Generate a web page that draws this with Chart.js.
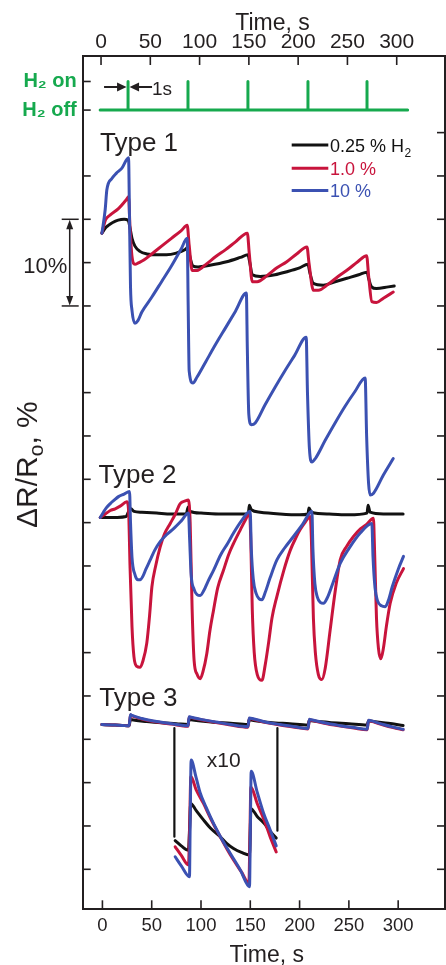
<!DOCTYPE html>
<html><head><meta charset="utf-8">
<script src="https://cdn.jsdelivr.net/npm/chart.js@4/dist/chart.umd.min.js"></script>
<style>html,body{margin:0;padding:0;background:#fff;}canvas{display:block;}</style>
</head><body>
<canvas id="c" width="446" height="965"></canvas>
<script>
// ---------- tick labels ----------
const xTickValues = [0, 50, 100, 150, 200, 250, 300];
const yLeftTickValues = [0, 5, 10, 15, 20, 25, 30, 35, 40, 45, 50, 55, 60, 65, 70, 75, 80];
const yRightTickValues = [0, 5, 10, 15, 20, 25, 30, 35, 40, 45, 50, 55, 60, 65, 70, 75, 80, 85];
const h2Labels = ['H\u2082 off', 'H\u2082 on'];
const h2Levels = [87.6, 90.9];
const seriesNames = ['0.25 % H', '1.0 %', '10 %'];
const typeNames = ['Type 1', 'Type 2', 'Type 3'];

// ---------- H2 pulses ----------
const h2PulseTimes = [26, 86.8, 147.6, 208.5, 268.4];
const h2Span = [-2.3, 309.6];

// ---------- Type 1 ----------
const type1BlackTime = [-0.5,3,6,10,16,22,26,28,30,33,38,45,55,65,75,84,86.8,88.5,92,97,109,126,140,147.6,149.5,152,160,175,187,200,208.5,210.5,214,224,236,248,260,268.4,270,273,278,290,296];
const type1BlackVal  = [73.4,74.0,74.3,74.6,74.9,75.0,74.9,74.0,72.8,71.9,71.3,71.0,70.9,70.9,71.1,71.5,71.8,70.8,69.6,69.5,69.7,70.1,70.6,70.9,70.0,68.6,68.4,68.6,68.95,69.4,69.8,68.8,67.6,67.4,67.8,68.2,68.6,68.9,68.2,67.2,67.0,67.2,67.3];
const type1RedTime = [-0.5,3,8,16,24.5,26.5,28,30,33,37,42,50,60,70,80,86,88,91,96,105,115,125,135,147,149,152,157,167,177,187,197,207.5,209.5,214,219,229,239,249,259,268,270,273.3,278,285,295];
const type1RedVal  = [73.4,74.9,75.5,76.2,77.3,77.6,74.0,70.7,69.8,70.0,70.3,71.0,71.9,72.8,73.7,74.3,72.0,69.1,69.1,69.8,70.7,71.5,72.4,73.4,71.0,67.8,67.8,68.5,69.4,70.1,71.0,71.8,70.0,66.8,66.8,67.5,68.4,69.2,70.1,70.8,68.5,65.5,65.4,65.9,66.6];
const type1BlueTime = [-0.5,2.8,4.5,9.6,14,19.8,26.5,27.5,28.5,30,33,36,40,50,60,70,80,86,87,88,91.8,96,105,115,125,135,146,147,148.5,151,155,165,175,185,195,206.7,208,210,212.5,216,226,236,246,256,266.5,268,270,271.6,275,285,295];
const type1BlueVal  = [73.4,76.1,78.4,79.7,80.3,80.9,82.1,75.0,67.2,64.5,63.0,63.3,64.3,66.0,67.8,69.6,71.6,72.8,65.0,57.5,56.1,56.8,58.6,60.6,62.5,64.4,66.5,60.0,52.5,51.3,51.5,53.6,55.6,57.5,59.3,61.4,55.0,48.5,47.0,47.4,49.5,51.5,53.4,55.1,56.7,50.0,44.5,43.2,43.4,45.5,47.4];

// ---------- Type 2 ----------
const type2BlackTime = [-2.2,5,15,24,27,29,32,40,55,70,85,87,89,100,120,140,148,149,151,160,180,200,208.5,209.5,212,230,250,268.4,269.5,271.5,285,305];
const type2BlackVal  = [40.6,40.6,40.6,40.7,41.4,41.6,41.3,41.2,41.1,41.0,41.0,41.8,41.3,41.1,41.0,41.0,41.0,42.0,41.5,41.2,41.0,40.9,41.0,41.7,41.2,41.0,40.9,41.1,42.0,41.2,41.0,41.0];
const type2RedTime = [-2.2,3,8,13,18,24.8,26.5,28,30,32,35,38,41,45,48,50.2,54,58.6,63,68.8,74,78.9,84,87.3,89,91,93,96,99.2,102,105.9,109,112.7,117,122.8,128,133,140,145,149.2,150.5,152,154,157,161.8,165,168.5,172,177,184,190.5,196,200.6,206,210.8,212,214,216,219,222.6,226,231,236,241.2,248,254.7,262,268,274.9,276,278,280,282.4,285,288,291.9,298,305.4];
const type2RedVal  = [40.6,41.0,41.4,41.6,41.9,42.4,41.5,35,28,24.5,23.4,23.3,24.0,26.1,29.5,32.6,35.0,37.2,38.7,39.9,41.0,42.2,42.5,42.6,40,30,24.1,22.5,22.0,22.8,24.9,27.5,29.9,32.5,34.5,36.3,37.6,39.2,40.3,41.1,38,30,25,22.5,21.8,23.5,26.1,29,31.5,34.5,36.8,38.2,39.2,40.1,40.7,38,29,25,22.5,21.9,23.2,27.6,32,35.7,37.3,38.4,39.3,39.8,40.5,37,29,25.5,24.3,25.5,28,30.7,33,34.7];
const type2BlueTime = [-2.2,1,3.9,8,12,16.3,22,27.5,28.5,30,33,36,38.3,41,44,48.5,53,58.6,65,72.2,80,87.3,88.5,90,93,96,99.2,103,107,112.7,120,127,133,141,149.9,151,153,156,159,161.8,165,170,177,185,193.8,203,212.5,213.5,215.5,218,221,224.2,228,234,241.2,250,261.5,273.3,274.5,276.5,279,283,286.8,290,294,300,305.4];
const type2BlueVal  = [40.6,41.2,41.7,42.2,42.6,43.0,43.3,43.6,40,36,34.0,33.4,33.4,33.8,34.6,35.7,36.8,37.8,38.6,39.3,40.2,41.1,38,34,32.3,31.7,31.6,32.2,33.2,34.5,36.3,37.6,38.8,40.2,41.3,37,33.5,31.8,31.2,31.1,31.9,33.6,35.7,37.1,38.4,39.8,41.3,37,33,31.4,30.8,30.7,31.3,33.1,35.3,37.0,38.8,39.9,36,32.5,31,30.4,30.3,31,32.6,34.6,36.1];

// ---------- Type 3 ----------
const type3BlackTime = [-0.5,10,20,27,28.5,30,45,60,75,86.8,88,90,110,130,147.6,149,152,170,190,208.5,210,212,230,250,268.4,270,272,290,305];
const type3BlackVal  = [16.7,16.65,16.6,16.55,17.3,17.25,17.05,16.9,16.8,16.7,17.3,17.25,17.0,16.85,16.7,17.25,17.2,16.95,16.8,16.65,17.2,17.15,16.95,16.8,16.65,17.15,17.1,16.85,16.6];
const type3RedTime = [-0.5,10,20,27,28.5,30,40,55,70,86.8,88,90,100,115,130,147.6,149,152,165,180,195,208.5,210,212,225,240,255,268.4,270,272,285,295,305];
const type3RedVal  = [16.7,16.65,16.6,16.55,17.8,17.7,17.35,17.0,16.75,16.5,17.55,17.5,17.25,16.95,16.65,16.4,17.4,17.35,16.95,16.65,16.4,16.2,17.25,17.2,16.85,16.55,16.3,16.1,17.15,17.1,16.65,16.35,16.1];
const type3BlueTime = type3RedTime;
const type3BlueVal  = [16.7,16.65,16.6,16.55,17.85,17.75,17.4,17.05,16.8,16.55,17.6,17.55,17.3,17.0,16.7,16.45,17.45,17.4,17.0,16.7,16.45,16.25,17.3,17.25,16.9,16.6,16.35,16.15,17.2,17.15,16.7,16.4,16.15];

// ---------- Type 3 inset (x10) ----------
const insetLinkTime = [73, 177.5];
const insetLinkTop = [16.3, 16.3];
const insetLinkBottom = [3.76, 4.45];
const insetBlackTime = [73.8,80,87.3,88.5,89.5,95,102.5,110,119.5,126,133,141,149.2,150,150.6,157,164,170,176.3];
const insetBlackVal  = [3.3,2.7,2.2,5.0,7.6,6.8,5.7,4.7,3.76,3.0,2.4,1.95,1.65,4.5,7.0,6.1,5.3,4.4,3.6];
const insetRedTime = [73.8,80,87.3,88.5,89.7,95,102.5,110,119.5,126,133,141,148.6,149.5,150.6,157,164,170,176.3];
const insetRedVal  = [2.6,1.6,0.5,5.0,10.7,9.2,7.6,5.8,3.76,2.4,1.07,-0.3,-1.6,3.0,9.5,7.6,5.7,3.8,2.0];
const insetBlueTime = [73.8,80,88.3,89,90,95,99.2,105,112.7,120,129.6,140,149.2,150,150.9,157,163.4,170,176.3];
const insetBlueVal  = [1.45,0.4,-0.85,5.0,12.6,10.6,8.8,7.2,5.3,3.7,1.85,-0.1,-2.0,4.0,11.3,8.9,6.5,4.6,2.7];

// ---------- styling ----------
const ink = '#231f20';
const cBlack = '#121212', cRed = '#c8143c', cBlue = '#3b51b2', cGreen = '#16a94e';
const FONT = '"Liberation Sans", Arial, Helvetica, sans-serif';

const pts = (t, v) => t.map((x, i) => ({x: x, y: v[i]}));
const ds = (t, v, color, w, smooth) => ({
  data: pts(t, v), borderColor: color, borderWidth: w || 3, pointRadius: 0,
  fill: false, tension: smooth ? 0.4 : 0, cubicInterpolationMode: smooth ? 'monotone' : 'default',
  borderJoinStyle: 'round', borderCapStyle: 'round',
  xAxisID: 'x', yAxisID: 'y'
});

// H2 trace built from pulse times
const h2T = [h2Span[0]], h2V = [h2Levels[0]];
h2PulseTimes.forEach(t => { h2T.push(t, t, t); h2V.push(h2Levels[0], h2Levels[1], h2Levels[0]); });
h2T.push(h2Span[1]); h2V.push(h2Levels[0]);

const datasets = [
  ds(type1BlueTime, type1BlueVal, cBlue, 3, true), ds(type1RedTime, type1RedVal, cRed, 3, true), ds(type1BlackTime, type1BlackVal, cBlack, 3, true),
  ds(type2BlueTime, type2BlueVal, cBlue, 3, true), ds(type2RedTime, type2RedVal, cRed, 3, true), ds(type2BlackTime, type2BlackVal, cBlack, 3, true),
  ds(type3BlueTime, type3BlueVal, cBlue, 3, true), ds(type3RedTime, type3RedVal, cRed, 3, true), ds(type3BlackTime, type3BlackVal, cBlack, 3, true),
  ds(insetBlueTime, insetBlueVal, cBlue, 3, true), ds(insetRedTime, insetRedVal, cRed, 3, true), ds(insetBlackTime, insetBlackVal, cBlack, 3, true),
  ds([insetLinkTime[0], insetLinkTime[0]], [insetLinkTop[0], insetLinkBottom[0]], cBlack, 2.2, false),
  ds([insetLinkTime[1], insetLinkTime[1]], [insetLinkTop[1], insetLinkBottom[1]], cBlack, 2.2, false),
  ds(h2T, h2V, cGreen, 3, false)
];

const annot = {
  id: 'annot',
  afterDraw(chart) {
    const {ctx, chartArea: a, scales} = chart;
    const X = scales.x, X2 = scales.x2, Y = scales.y;
    ctx.save();
    const seg = (x1, y1, x2, y2) => { ctx.beginPath(); ctx.moveTo(x1, y1); ctx.lineTo(x2, y2); ctx.stroke(); };
    const txt = (s, px, py, size, color, align, weight) => {
      ctx.font = (weight || 'normal') + ' ' + size + 'px ' + FONT;
      ctx.fillStyle = color; ctx.textAlign = align || 'left'; ctx.textBaseline = 'alphabetic';
      ctx.fillText(s, px, py);
    };
    // inward ticks
    ctx.strokeStyle = ink; ctx.lineWidth = 1.6;
    xTickValues.forEach(v => { const p = X.getPixelForValue(v); seg(p, a.bottom, p, a.bottom - 9); });
    xTickValues.forEach(v => { const p = X2.getPixelForValue(v); seg(p, a.top, p, a.top + 9); });
    yLeftTickValues.concat(h2Levels).forEach(v => { const p = Y.getPixelForValue(v); seg(a.left, p, a.left + 8, p); });
    yRightTickValues.forEach(v => { const p = Y.getPixelForValue(v); seg(a.right, p, a.right - 8, p); });

    // axis titles
    txt('Time, s', 272.5, 30, 23, ink, 'center');
    txt('Time, s', 266.7, 962, 23, ink, 'center');
    ctx.save();
    ctx.translate(37, 528); ctx.rotate(-Math.PI / 2);
    ctx.font = '30px ' + FONT; ctx.fillStyle = ink; ctx.textAlign = 'left'; ctx.textBaseline = 'alphabetic';
    let w = 0;
    ctx.fillText('\u0394R/R', 0, 0); w += ctx.measureText('\u0394R/R').width;
    ctx.font = '21px ' + FONT; ctx.fillText('o', w, 6); w += ctx.measureText('o').width;
    ctx.font = '30px ' + FONT; ctx.fillText(', %', w, 0);
    ctx.restore();

    // type labels
    txt(typeNames[0], 100, 150.5, 26, ink);
    txt(typeNames[1], 98.5, 482.7, 26, ink);
    txt(typeNames[2], 99.3, 706, 26, ink);
    txt('x10', 206.7, 767.3, 21, ink);

    // legend
    const legColors = [cBlack, cRed, cBlue];
    const legY = [145, 168.3, 190.5];
    legColors.forEach((c, i) => {
      ctx.strokeStyle = c; ctx.lineWidth = 3; seg(291.7, legY[i], 328.3, legY[i]);
      txt(seriesNames[i], 330, legY[i] + 6.5, 18, c);
    });
    ctx.font = '18px ' + FONT;
    const hw = ctx.measureText(seriesNames[0]).width;
    txt('2', 330 + hw + 0.5, legY[0] + 12, 12, cBlack);

    // 10% scale bar
    const bx = a.left - 13, bt = Y.getPixelForValue(75), bb = Y.getPixelForValue(65);
    ctx.strokeStyle = ink; ctx.fillStyle = ink; ctx.lineWidth = 1.5;
    seg(bx, bt + 6, bx, bb - 6);
    seg(bx - 8, bt, bx + 9, bt); seg(bx - 8, bb, bx + 9, bb);
    ctx.beginPath(); ctx.moveTo(bx, bt + 0.5); ctx.lineTo(bx - 3.5, bt + 10); ctx.lineTo(bx + 3.5, bt + 10); ctx.closePath(); ctx.fill();
    ctx.beginPath(); ctx.moveTo(bx, bb - 0.5); ctx.lineTo(bx - 3.5, bb - 10); ctx.lineTo(bx + 3.5, bb - 10); ctx.closePath(); ctx.fill();
    txt('10%', bx - 2.5, 273.3, 22, ink, 'right');

    // 1 s arrows
    const px = X.getPixelForValue(h2PulseTimes[0]);
    const ay = Y.getPixelForValue(h2Levels[1]) + 5.5;
    ctx.lineWidth = 2;
    seg(px - 24, ay, px - 9, ay);
    ctx.beginPath(); ctx.moveTo(px - 1.5, ay); ctx.lineTo(px - 11, ay - 4.5); ctx.lineTo(px - 11, ay + 4.5); ctx.closePath(); ctx.fill();
    seg(px + 9, ay, px + 24, ay);
    ctx.beginPath(); ctx.moveTo(px + 1.5, ay); ctx.lineTo(px + 11, ay - 4.5); ctx.lineTo(px + 11, ay + 4.5); ctx.closePath(); ctx.fill();
    txt('1s', px + 24, 95, 19, ink);
    ctx.restore();
  }
};

const axisBorder = {color: ink, width: 2};
new Chart(document.getElementById('c').getContext('2d'), {
  type: 'line',
  data: {datasets: datasets},
  options: {
    responsive: false, animation: false, devicePixelRatio: 1,
    layout: {padding: 0},
    plugins: {legend: {display: false}, tooltip: {enabled: false}},
    font: {family: FONT},
    scales: {
      x: {
        type: 'linear', position: 'bottom', min: -20, max: 347.5, bounds: 'data',
        afterBuildTicks: s => { s.ticks = xTickValues.map(v => ({value: v})); },
        afterFit: s => { s.height = 55.7; },
        grid: {display: false, drawTicks: false}, border: axisBorder,
        ticks: {autoSkip: false, maxRotation: 0, padding: 6, color: ink, font: {size: 18.5, family: FONT}, callback: v => String(v)}
      },
      x2: {
        type: 'linear', position: 'top', min: -18.6, max: 349, bounds: 'data',
        afterBuildTicks: s => { s.ticks = xTickValues.map(v => ({value: v})); },
        afterFit: s => { s.height = 56; },
        grid: {display: false, drawTicks: false}, border: axisBorder,
        ticks: {autoSkip: false, maxRotation: 0, padding: 1, color: ink, font: {size: 21, family: FONT}, callback: v => String(v)}
      },
      y: {
        type: 'linear', position: 'left', min: -4.615, max: 93.84, bounds: 'data',
        afterBuildTicks: s => { s.ticks = h2Levels.map(v => ({value: v})); },
        afterFit: s => { s.width = 82.7; },
        grid: {display: false, drawTicks: false}, border: axisBorder,
        ticks: {autoSkip: false, padding: 6, color: cGreen, font: {size: 20, weight: 'bold', family: FONT},
          callback: (v, i) => h2Labels[i]}
      },
      y2: {
        type: 'linear', position: 'right', min: -4.615, max: 93.84, bounds: 'data',
        afterFit: s => { s.width = 1; },
        grid: {display: false, drawTicks: false}, border: axisBorder,
        ticks: {display: false}
      }
    }
  },
  plugins: [annot]
});
</script>
</body></html>
